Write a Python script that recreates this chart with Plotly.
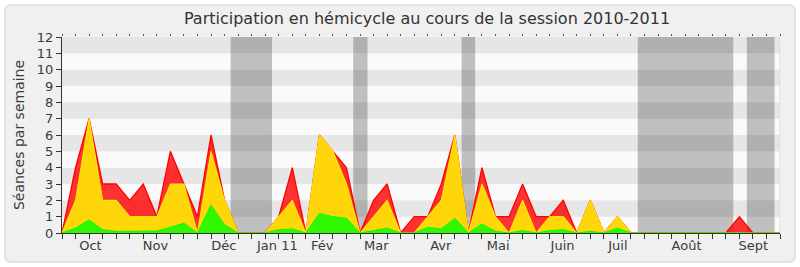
import plotly.graph_objects as go

# ---- data (weekly, week index 0..53) ----
weeks = list(range(54))
presence = [0, 4, 7, 3, 3, 2, 3, 1, 5, 3, 1, 6, 2, 0, 0, 0, 1, 4, 0, 6,
            5, 4, 0, 2, 3, 0, 1, 1, 3, 6, 0, 4, 1, 1, 3, 1, 1, 2, 0, 2,
            0, 1, 0, 0, 0, 0, 0, 0, 0, 0, 1, 0, 0, 0]
participation = [0, 2, 7, 2, 2, 1, 1, 1, 3, 3, 0, 5, 2, 0, 0, 0, 1, 2, 0, 6,
                 5, 3, 0, 1, 2, 0, 0, 1, 2, 6, 0, 3, 1, 0, 2, 0, 1, 1, 0, 2,
                 0, 1, 0, 0, 0, 0, 0, 0, 0, 0, 0, 0, 0, 0]
interventions = [0, 0.3, 0.8, 0.2, 0.1, 0.12, 0.12, 0.12, 0.35, 0.6, 0, 1.7, 0.5, 0, 0, 0,
                 0.2, 0.25, 0, 1.2, 1.0, 0.9, 0, 0.15, 0.3, 0, 0, 0.35, 0.25, 0.9,
                 0, 0.55, 0.1, 0, 0.15, 0, 0.15, 0.2, 0, 0.1, 0, 0.3, 0, 0, 0, 0,
                 0, 0, 0, 0, 0, 0, 0, 0]
month_pos = [2.1, 6.9, 11.95, 15.9, 19.2, 23.2, 27.96, 32.2, 36.95, 41.03, 46.1, 51.03]
month_labels = ["Oct", "Nov", "Déc", "Jan 11", "Fév", "Mar", "Avr", "Mai", "Juin", "Juil", "Août", "Sept"]
vacations = [(12.45, 15.5), (21.5, 22.55), (29.5, 30.5), (42.5, 49.55), (50.55, 52.6)]
ymax = 12
xmax = 53

W, H = 800, 267
ML, MR, MT, MB = 62, 20, 37, 34
FONT = "DejaVu Sans"
TXT = "#3a3a3a"

fig = go.Figure()

fig.add_trace(go.Scatter(x=weeks, y=presence, mode="lines", fill="tozeroy",
                         line=dict(color="rgb(255,0,0)", width=1.3),
                         fillcolor="rgba(255,0,0,0.8)", hoverinfo="skip", showlegend=False))
fig.add_trace(go.Scatter(x=weeks, y=participation, mode="lines", fill="tozeroy",
                         line=dict(color="rgba(255,240,0,0.9)", width=1.1),
                         fillcolor="rgba(255,255,0,0.8)", hoverinfo="skip", showlegend=False))
fig.add_trace(go.Scatter(x=weeks, y=interventions, mode="lines", fill="tozeroy",
                         line=dict(color="rgb(0,255,0)", width=1),
                         fillcolor="rgba(0,255,0,0.8)", hoverinfo="skip", showlegend=False))
# empty trace so that the top tick axis is drawn
fig.add_trace(go.Scatter(x=[], y=[], xaxis="x2", mode="lines", hoverinfo="skip", showlegend=False))

shapes = []
pw = W - ML - MR
ph = H - MT - MB
def px(x):
    return (x - ML) / pw
def py(y):
    return (H - MB - y) / ph
x0, x1, y0, y1, r = 5, 795, 5, 262, 6
path = (f"M {px(x0 + r)},{py(y0)} L {px(x1 - r)},{py(y0)} "
        f"Q {px(x1)},{py(y0)} {px(x1)},{py(y0 + r)} L {px(x1)},{py(y1 - r)} "
        f"Q {px(x1)},{py(y1)} {px(x1 - r)},{py(y1)} L {px(x0 + r)},{py(y1)} "
        f"Q {px(x0)},{py(y1)} {px(x0)},{py(y1 - r)} L {px(x0)},{py(y0 + r)} "
        f"Q {px(x0)},{py(y0)} {px(x0 + r)},{py(y0)} Z")
shapes.append(dict(type="path", xref="paper", yref="paper", path=path,
                   fillcolor="#f0f0f0", line=dict(color="#dcdcdc", width=1.5), layer="below"))
for k in range(ymax):
    shapes.append(dict(type="rect", xref="x", yref="y", x0=0, x1=xmax, y0=k, y1=k + 1,
                       fillcolor="#e6e6e6" if k % 2 == 1 else "#fafafa",
                       line=dict(width=0), layer="below"))
for a, b in vacations:
    shapes.append(dict(type="rect", xref="x", yref="y", x0=a, x1=b, y0=0, y1=ymax,
                       fillcolor="rgba(0,0,0,0.235)", line=dict(width=0), layer="below"))
shapes.append(dict(type="line", xref="x", yref="y", x0=xmax, x1=xmax, y0=0, y1=ymax,
                   line=dict(color="#d0d0d0", width=1), layer="below"))

fig.update_layout(
    width=W, height=H,
    margin=dict(l=ML, r=MR, t=MT, b=MB),
    paper_bgcolor="white", plot_bgcolor="rgba(0,0,0,0)",
    font=dict(family=FONT, size=13, color=TXT),
    title=dict(text="Participation en hémicycle au cours de la session 2010-2011",
               x=427 / W, xanchor="center", y=1 - 18 / H, yanchor="middle", yref="container",
               font=dict(family=FONT, size=16, color="#333333")),
    shapes=shapes,
    xaxis=dict(range=[0, xmax], tickmode="array", tickvals=month_pos, ticktext=month_labels,
               ticks="outside", ticklen=0, showgrid=False, zeroline=False,
               showline=True, linecolor="#333333", linewidth=1, layer="above traces",
               minor=dict(tick0=0, dtick=1, ticks="outside", ticklen=5, tickcolor="#333333",
                          showgrid=False),
               tickfont=dict(family=FONT, size=13, color=TXT)),
    xaxis2=dict(range=[0, xmax], overlaying="x", side="top", tickmode="linear", tick0=0, dtick=1,
                ticks="outside", ticklen=2, tickcolor="#555555", showticklabels=False,
                showgrid=False, zeroline=False, showline=False),
    yaxis=dict(range=[0, ymax], tickmode="linear", tick0=0, dtick=1,
               ticks="outside", ticklen=5, tickcolor="#333333", showgrid=False, zeroline=False,
               showline=True, linecolor="#333333", linewidth=1, layer="above traces",
               tickfont=dict(family=FONT, size=13, color=TXT),
               title=dict(text="Séances par semaine", standoff=8,
                          font=dict(family=FONT, size=14, color=TXT))),
)

fig.write_html("out.html")
